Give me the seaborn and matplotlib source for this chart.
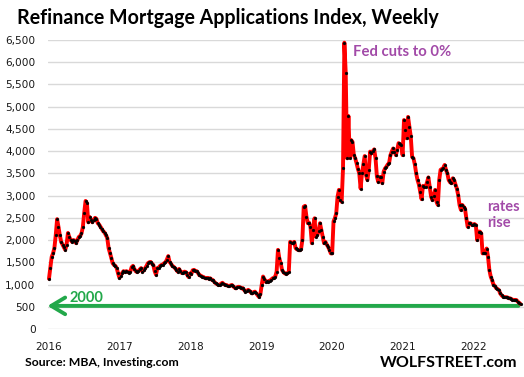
import numpy as np
import pandas as pd
import matplotlib
matplotlib.use("Agg")
import matplotlib.pyplot as plt
import matplotlib.dates as mdates
from matplotlib.ticker import FuncFormatter, MultipleLocator
import seaborn as sns

# ---- data (weekly refinance index) ----
v2016 = [1130, 1370, 1620, 1700, 1820, 2110, 2470, 2300, 2110, 1960, 1900, 1840, 1780,
         1900, 2160, 2070, 2000, 1960, 2000, 1990, 1930, 2000, 2070, 2090, 2150, 2290,
         2610, 2880, 2830, 2400, 2520, 2450, 2400, 2450, 2500, 2480, 2380, 2350, 2300,
         2250, 2200, 2170, 2110, 2050, 1820, 1710, 1600, 1480, 1440, 1420, 1370, 1250, 1150]
v2017 = [1200, 1260, 1300, 1280, 1300, 1290, 1270, 1290, 1390, 1420, 1350, 1300, 1280,
         1300, 1340, 1370, 1290, 1320, 1370, 1420, 1480, 1500, 1510, 1470, 1440, 1300,
         1220, 1370, 1380, 1420, 1440, 1450, 1480, 1500, 1560, 1640, 1510, 1470, 1420,
         1400, 1370, 1330, 1290, 1350, 1300, 1260, 1270, 1290, 1280, 1220, 1170, 1250]
v2018 = [1230, 1320, 1330, 1310, 1300, 1260, 1210, 1200, 1180, 1170, 1150, 1140, 1150,
         1130, 1140, 1110, 1100, 1060, 1030, 1010, 990, 990, 1020, 1040, 1010, 990,
         990, 970, 965, 980, 990, 960, 930, 915, 940, 950, 940, 915, 920,
         880, 840, 860, 880, 860, 820, 800, 830, 840, 800, 760, 720, 780]
v2019 = [990, 1180, 1120, 1060, 1070, 1060, 1090, 1110, 1140, 1150, 1180, 1290, 1780,
         1590, 1480, 1330, 1280, 1250, 1240, 1250, 1290, 1960, 1940, 1930, 1960, 1820,
         1790, 1780, 1770, 1790, 2000, 2750, 2770, 2530, 2380, 2390, 2300, 1930, 2230,
         2490, 2080, 2110, 2200, 2380, 2230, 2080, 1930, 1960, 1900, 1850, 1780, 1700]
v2020 = [1700, 2420, 2490, 2600, 2980, 3130, 2900, 2860, 3610, 6440, 5760, 3840, 4790,
         3850, 4250, 4210, 3910, 3840, 3730, 3600, 3500, 3160, 3500, 3700, 3890, 3460,
         3350, 3580, 3990, 3950, 4000, 4040, 3840, 3430, 3310, 3420, 3420, 3280, 3540,
         3610, 3650, 3700, 3730, 3910, 3990, 4060, 3990, 3910, 4030, 4180, 4150, 4140]
v2021 = [3910, 4700, 4480, 4290, 4770, 4550, 4330, 3870, 3840, 3700, 3500, 3350, 3250,
         3090, 2920, 3220, 3200, 3200, 3300, 3410, 3200, 2980, 2900, 3000, 3130, 2860,
         2790, 3350, 3580, 3600, 3620, 3690, 3580, 3500, 3350, 3300, 3280, 3390, 3350,
         3250, 3160, 3010, 2790, 2680, 2790, 2750, 2710, 2490, 2300, 2380, 2380, 2340]
v2022 = [2350, 2360, 2340, 2000, 2190, 2190, 2150, 1700, 1710, 1700, 1810, 1630, 1330,
         1180, 1100, 1000, 970, 920, 900, 880, 800, 760, 730, 720, 715, 712,
         700, 690, 680, 660, 652, 655, 650, 614, 590, 562]

values = v2016 + v2017 + v2018 + v2019 + v2020 + v2021 + v2022
start_date = "2016-01-01"
arrow_level = 520
title = "Refinance Mortgage Applications Index, Weekly"
source = "Source: MBA, Investing.com"
brand = "WOLFSTREET.com"
note_fed = "Fed cuts to 0%"
note_rates = "rates\nrise"
arrow_label = "2000"

dates = pd.date_range(start_date, periods=len(values), freq="7D")
df = pd.DataFrame({"date": dates, "value": values})

# ---- figure ----
sns.set_style("white")
plt.rcParams["font.family"] = ["DejaVu Sans"]
W, H = 524, 377
fig = plt.figure(figsize=(W / 100, H / 100), dpi=100)

def fx(px):
    return px / W

def fy(py):
    return 1 - py / H

ax = fig.add_axes([fx(48), fy(329), fx(524) - fx(48), fy(40) - fy(329)])

sns.lineplot(data=df, x="date", y="value", ax=ax, color="#ff0000", linewidth=2.8,
             marker="o", markersize=2.1, markerfacecolor="black",
             markeredgecolor="black", markeredgewidth=0.2, clip_on=False, zorder=3)

ax.set_ylim(0, 6500)
ax.set_xlim(pd.Timestamp("2015-12-27"), pd.Timestamp("2022-09-20"))
ax.yaxis.set_major_locator(MultipleLocator(500))
ax.yaxis.set_major_formatter(FuncFormatter(lambda v, p: f"{v:,.0f}"))
ax.xaxis.set_major_locator(mdates.YearLocator())
ax.xaxis.set_major_formatter(mdates.DateFormatter("%Y"))
ax.grid(axis="y", color="#d9d9d9", linewidth=1.0)
ax.grid(axis="x", visible=False)
ax.set_axisbelow(True)
for s in ax.spines.values():
    s.set_visible(False)
ax.tick_params(axis="y", length=0, pad=9, labelsize=7.6, labelcolor="#1a1a1a")
ax.tick_params(axis="x", length=0, pad=9, labelsize=7.6, labelcolor="#1a1a1a")
ax.set_xlabel("")
ax.set_ylabel("")

# green arrow
green = "#22a84a"
ax.annotate("", xy=(pd.Timestamp("2015-12-10"), arrow_level),
            xytext=(pd.Timestamp("2022-09-06"), arrow_level),
            arrowprops=dict(arrowstyle="->,head_length=0.5,head_width=0.3",
                            color=green, lw=2.8, mutation_scale=20),
            annotation_clip=False, zorder=2)

purple = "#a24aa8"
fig.text(fx(17), fy(18), title, fontsize=14.1, fontweight="bold", family="Lato",
         va="center", ha="left", color="black")
fig.text(fx(25), fy(363), source, fontsize=8.8, fontweight="bold", family="Lato",
         va="center", ha="left", color="black")
fig.text(fx(517), fy(363), brand, fontsize=11.5, fontweight="bold", family="Lato",
         va="center", ha="right", color="black")
fig.text(fx(353), fy(52), note_fed, fontsize=10.7, fontweight="bold", family="Lato",
         va="center", ha="left", color=purple)
fig.text(fx(487), fy(215), note_rates, fontsize=10.5, fontweight="bold", family="Lato",
         va="center", ha="left", color=purple, linespacing=1.25)
fig.text(fx(69), fy(298), arrow_label, fontsize=10.5, fontweight="bold", family="Lato",
         va="center", ha="left", color=green)

fig.savefig("out.png", dpi=100)
